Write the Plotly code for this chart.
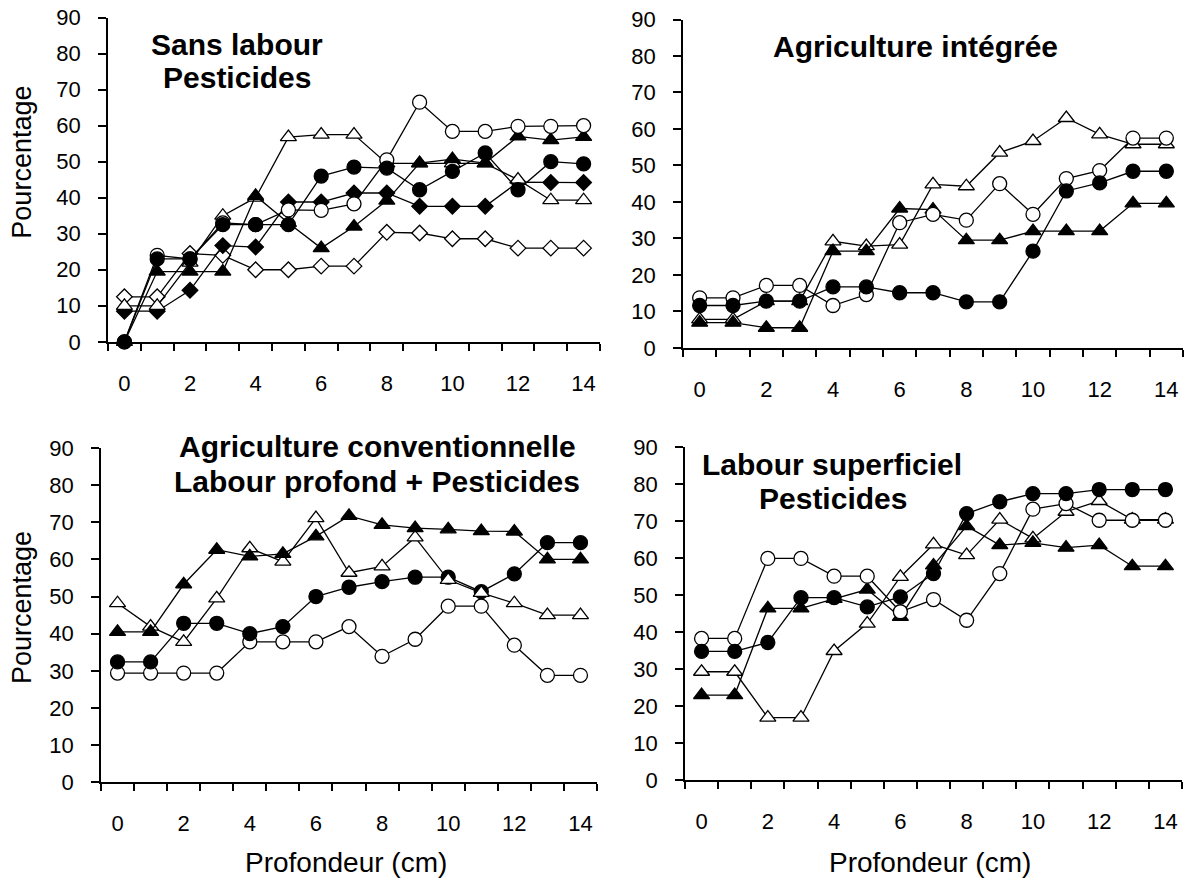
import plotly.graph_objects as go

depth = list(range(15))
xtick_vals = [0, 2, 4, 6, 8, 10, 12, 14]
xtick_text = ["0", "2", "4", "6", "8", "10", "12", "14"]
ytick_vals = [0, 10, 20, 30, 40, 50, 60, 70, 80, 90]

# Panel 1: Sans labour / Pesticides
p1_fc = [0, 23, 23, 32.5, 32.5, 32.5, 46, 48.5, 48.2, 42.2, 47.3, 52.4, 42.2, 50, 49.4]
p1_oc = [0, 24, 23, 33, 32.5, 36.6, 36.5, 38.3, 50.5, 66.5, 58.4, 58.4, 59.8, 59.8, 60]
p1_ft = [0, 19.5, 19.5, 19.5, 40.5, 33, 26, 32, 39.2, 49.6, 50.7, 49.6, 57, 56, 56.9]
p1_ot = [10, 10, 22, 35, 40, 56.8, 57.5, 57.5, 49.5, 49.5, 49.5, 49.5, 45, 39.3, 39.3]
p1_fd = [8.5, 8.5, 14.3, 26.7, 26.3, 38.8, 38.8, 41.3, 41.3, 37.6, 37.6, 37.6, 44.3, 44.2, 44.2]
p1_od = [12.5, 12.5, 24.5, 24, 20, 20, 21, 21, 30.4, 30.2, 28.6, 28.6, 26, 26, 26]

# Panel 2: Agriculture intégrée
p2_fc = [11.6, 11.6, 12.8, 12.8, 16.7, 16.7, 15.1, 15.1, 12.6, 12.6, 26.5, 43, 45.2, 48.4, 48.4]
p2_oc = [13.7, 13.7, 17.1, 17.1, 11.6, 14.6, 34.3, 36.6, 35, 45, 36.6, 46.4, 48.6, 57.5, 57.5]
p2_ft = [6.9, 6.9, 5.5, 5.5, 26.5, 26.5, 38.2, 37.9, 29.5, 29.5, 32, 32, 32, 39.6, 39.6]
p2_ot = [7.8, 7.8, 12.8, 12.8, 29.2, 27.9, 28.3, 44.8, 44.3, 53.5, 56.7, 63, 58.5, 55.8, 55.8]

# Panel 3: Agriculture conventionnelle / Labour profond + Pesticides
p3_fc = [32.4, 32.4, 42.8, 42.8, 40, 41.9, 50, 52.5, 54, 55.2, 55.2, 51.3, 56.1, 64.5, 64.5]
p3_oc = [29.4, 29.4, 29.4, 29.4, 37.8, 37.8, 37.8, 41.9, 33.9, 38.5, 47.4, 47.4, 36.9, 28.8, 28.8]
p3_ft = [40.5, 40.5, 53.3, 62.6, 60.8, 61.5, 66.2, 71.7, 69.3, 68.4, 68.1, 67.6, 67.5, 60, 60]
p3_ot = [48.2, 41.9, 37.8, 49.5, 63, 59.4, 71.1, 56.4, 58.1, 65.9, 54.5, 51, 48.2, 45, 45]

# Panel 4: Labour superficiel / Pesticides
p4_fc = [34.8, 34.8, 37.2, 49.3, 49.3, 46.8, 49.5, 55.8, 72, 75.2, 77.4, 77.4, 78.5, 78.5, 78.5]
p4_oc = [38.3, 38.3, 59.9, 59.9, 55.1, 55.1, 45.5, 48.8, 43.2, 55.8, 73.2, 74.7, 70.2, 70.2, 70.2]
p4_ft = [23, 23, 46.4, 46.4, 49, 51.5, 44.1, 58, 68.6, 63.5, 64.1, 62.8, 63.5, 57.8, 57.8]
p4_ot = [29.3, 29.3, 16.9, 16.9, 34.9, 42.3, 54.9, 63.7, 60.8, 70.4, 65.3, 72.5, 75.4, 70.4, 70.4]

FONT = "Arial, Liberation Sans, sans-serif"

STYLE = {
    "fc": dict(symbol="circle", color="black", size=14),
    "oc": dict(symbol="circle", color="white", size=14),
    "ft": dict(symbol="triangle-up", color="black", size=14),
    "ot": dict(symbol="triangle-up", color="white", size=14),
    "fd": dict(symbol="diamond", color="black", size=12),
    "od": dict(symbol="diamond", color="white", size=12),
}

panels = [
    [("od", p1_od), ("fd", p1_fd), ("ot", p1_ot), ("ft", p1_ft), ("oc", p1_oc), ("fc", p1_fc)],
    [("ot", p2_ot), ("ft", p2_ft), ("oc", p2_oc), ("fc", p2_fc)],
    [("oc", p3_oc), ("fc", p3_fc), ("ot", p3_ot), ("ft", p3_ft)],
    [("ot", p4_ot), ("ft", p4_ft), ("oc", p4_oc), ("fc", p4_fc)],
]

W, H = 1192, 892


def Y(t):
    # vertical placement helper (screen px -> layout px)
    return (t - 12.5) / 0.971


# plot areas in pixels: (x0, x1, ytop, ybottom)
areas = [(108, 600, 18, 342), (683, 1183, 20, 348), (101, 597, 448, 782), (685, 1182, 447, 780)]

fig = go.Figure()
for i, series in enumerate(panels):
    n = "" if i == 0 else str(i + 1)
    for key, vals in series:
        st = STYLE[key]
        fig.add_trace(go.Scatter(
            x=depth, y=vals, mode="lines+markers",
            xaxis="x" + n, yaxis="y" + n,
            line=dict(color="black", width=1.3),
            marker=dict(symbol=st["symbol"], size=st["size"], color=st["color"],
                        line=dict(color="black", width=1.3)),
            showlegend=False, cliponaxis=False,
        ))
    x0, x1, yt, yb = areas[i]
    fig.layout["xaxis" + n] = dict(
        domain=[x0 / W, x1 / W], anchor="y" + n, range=[-0.5, 14.5],
        showline=True, linecolor="black", linewidth=1.5, showgrid=False, zeroline=False,
        tickmode="array", tickvals=xtick_vals, ticktext=xtick_text,
        ticks="outside", ticklen=21, tickcolor="rgba(0,0,0,0)",
        tickfont=dict(family=FONT, size=22, color="black"),
        minor=dict(tickmode="array", tickvals=[k - 0.5 for k in range(16)],
                   ticks="outside", ticklen=7, tickwidth=1.5, tickcolor="black", showgrid=False),
        fixedrange=True,
    )
    fig.layout["yaxis" + n] = dict(
        domain=[1 - Y(yb) / H, 1 - Y(yt) / H], anchor="x" + n, range=[0, 90],
        showline=True, linecolor="black", linewidth=1.5, showgrid=False, zeroline=False,
        tickmode="array", tickvals=ytick_vals,
        ticks="outside", ticklen=8, tickwidth=1.5, tickcolor="black",
        ticklabelstandoff=13,
        tickfont=dict(family=FONT, size=22, color="black"),
        fixedrange=True,
    )


def ann(text, x, y, size, bold=False, angle=0):
    fig.add_annotation(
        text=("<b>" + text + "</b>") if bold else text,
        x=x / W, y=1 - Y(y) / H, xref="paper", yref="paper",
        showarrow=False, textangle=angle, align="center",
        font=dict(family=FONT, size=size, color="black"),
        xanchor="center", yanchor="middle",
    )


ann("Sans labour", 237, 45, 30, bold=True)
ann("Pesticides", 237, 78, 30, bold=True)
ann("Agriculture intégrée", 915, 47, 30, bold=True)
ann("Agriculture conventionnelle", 377, 447, 30, bold=True)
ann("Labour profond + Pesticides", 377, 482, 30, bold=True)
ann("Labour superficiel", 832, 465, 30, bold=True)
ann("Pesticides", 833, 499, 30, bold=True)
ann("Pourcentage", 22, 163, 27, angle=-90)
ann("Pourcentage", 22, 608, 27, angle=-90)
ann("Profondeur (cm)", 346, 862, 28)
ann("Profondeur (cm)", 930, 862, 28)

fig.update_layout(
    width=W, height=H, margin=dict(l=0, r=0, t=0, b=0),
    paper_bgcolor="white", plot_bgcolor="white",
    font=dict(family=FONT, color="black"),
)

fig.write_html("out.html", config={"displayModeBar": False},
               post_script="document.body.style.margin='0px';")
